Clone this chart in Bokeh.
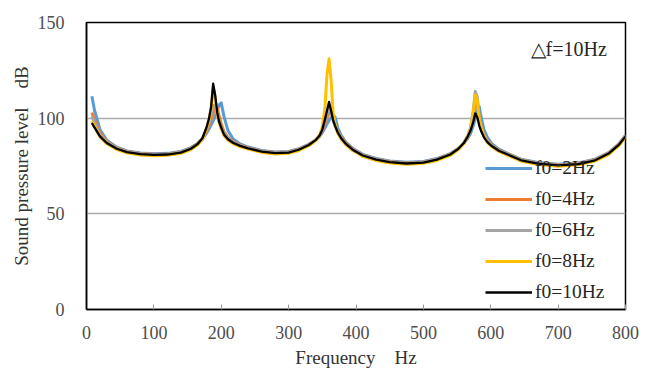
from bokeh.plotting import figure
from bokeh.models import FixedTicker, Legend, LegendItem, ColumnDataSource
from bokeh.core.properties import value
from bokeh.embed import file_html
from bokeh.resources import INLINE

freq = [8, 12, 20, 30, 45, 60, 80, 100, 120, 140,
        155, 165, 172, 178, 182, 185, 188, 191, 194, 197,
        200, 204, 210, 218, 228, 240, 260, 280, 300, 315,
        330, 340, 346, 350, 354, 357, 360, 363, 366, 369,
        373, 378, 385, 395, 410, 430, 450, 475, 500, 520,
        540, 552, 560, 566, 570, 574, 577, 580, 583, 586,
        590, 595, 602, 612, 625, 645, 670, 700, 730, 755,
        775, 790, 800]

spl_f0_2 = [111.5, 104, 94, 88.5, 84.8, 82.9, 81.8, 81.4, 81.6, 82.6,
            84.6, 86.8, 89, 92, 94.5, 96.5, 98.5, 101, 104, 107,
            108, 101, 93.5, 89, 86.5, 84.9, 83.1, 82.3, 82.6, 84,
            86.3, 88.5, 90.5, 92.5, 95, 97, 98.8, 100.3, 101.5, 100.5,
            95, 91, 87.5, 84.2, 81.1, 78.9, 77.6, 76.9, 77.4, 78.9,
            81.5, 84.2, 86.8, 89.5, 92, 96, 100, 103.5, 106, 100,
            94, 90, 86.5, 83.8, 81.6, 78.6, 76.8, 75.9, 76.6, 78.6,
            82, 86.5, 91]

spl_f0_4 = [103, 99, 92.5, 87.8, 84.4, 82.6, 81.5, 81.1, 81.3, 82.3,
            84.3, 86.7, 89.2, 93, 96.5, 99.5, 102.5, 105, 105.5, 101,
            97, 93, 90, 87.6, 86, 84.5, 82.8, 82, 82.3, 83.8,
            86.2, 88.6, 90.8, 93.5, 97, 100, 102.5, 103, 99.5, 96.3,
            93, 90, 87, 83.9, 80.8, 78.6, 77.3, 76.6, 77.1, 78.6,
            81.3, 84.1, 87, 90.5, 94, 100, 106.5, 108.5, 101, 95.5,
            91.5, 88.5, 85.8, 83.4, 81.3, 78.3, 76.5, 75.6, 76.3, 78.3,
            81.8, 86.3, 90.8]

spl_f0_6 = [101, 97.5, 91.5, 87.4, 84.2, 82.5, 81.4, 81, 81.2, 82.2,
            84.2, 86.6, 89.3, 94, 98, 102, 106.5, 107, 102.5, 98,
            95, 92, 89.5, 87.3, 85.7, 84.4, 82.7, 81.9, 82.2, 83.7,
            86.1, 88.5, 91, 94, 98.5, 102, 105, 103.5, 99, 95.8,
            92.7, 89.7, 86.7, 83.7, 80.7, 78.5, 77.2, 76.5, 77, 78.5,
            81.2, 84.1, 87.2, 91, 95, 104, 114, 111, 100.5, 95.5,
            91.2, 88.2, 85.6, 83.2, 81.2, 78.2, 76.4, 75.5, 76.2, 78.2,
            81.7, 86.2, 90.7]

spl_f0_8 = [98.5, 95.5, 90.3, 86.7, 83.6, 81.9, 80.8, 80.4, 80.6, 81.6,
            83.6, 86.1, 89, 94.5, 99.5, 105.5, 116, 110.5, 102, 97.5,
            94.5, 91, 88.6, 86.6, 85.1, 83.8, 82.1, 81.3, 81.6, 83.1,
            85.6, 88.2, 91, 95.5, 106, 123, 131, 120, 103, 96.5,
            92, 89, 86.1, 83.1, 80.1, 77.9, 76.6, 75.9, 76.4, 77.9,
            80.6, 83.6, 86.7, 90.5, 94.5, 102.5, 112, 109.5, 99, 94.5,
            90.3, 87.3, 84.9, 82.6, 80.6, 77.6, 75.8, 74.9, 75.6, 77.6,
            81.1, 85.6, 90.1]

spl_f0_10 = [97.5, 95, 90.5, 87, 84, 82.3, 81.2, 80.8, 81, 82,
             84, 86.5, 89.5, 95, 100, 106, 118, 112, 103, 98,
             95, 91.5, 89, 87, 85.5, 84.2, 82.5, 81.7, 82, 83.5,
             86, 88.5, 91, 94, 99.5, 104, 108.5, 104, 99, 96,
             92.5, 89.5, 86.5, 83.5, 80.5, 78.3, 77, 76.3, 76.8, 78.3,
             81, 84, 87, 90.5, 93.5, 98, 102.5, 100.5, 96, 93,
             90, 87.5, 85.3, 83, 81, 78, 76.2, 75.3, 76, 78,
             81.5, 86, 90.5]

series_labels = ["f0=2Hz", "f0=4Hz", "f0=6Hz", "f0=8Hz", "f0=10Hz"]
series_values = [spl_f0_2, spl_f0_4, spl_f0_6, spl_f0_8, spl_f0_10]
series_colors = ["#5B9BD5", "#ED7D31", "#A5A5A5", "#FFC000", "#000000"]
series_widths = [3, 3, 3, 3, 2.3]

x_ticks = [0, 100, 200, 300, 400, 500, 600, 700, 800]
y_ticks = [0, 50, 100, 150]
note_text = "△f=10Hz"

FONT = "Liberation Serif"

p = figure(width=645, height=370, output_backend="svg", toolbar_location=None,
           x_range=(0, 800), y_range=(0, 150),
           min_border_left=86, min_border_right=20, min_border_top=22, min_border_bottom=61)

p.outline_line_color = "black"
p.outline_line_width = 1.5
p.background_fill_color = "white"
p.border_fill_color = "white"

p.xgrid.visible = False
p.ygrid.grid_line_color = "#ABABAB"
p.ygrid.grid_line_width = 1.3

p.xaxis.ticker = FixedTicker(ticks=x_ticks)
p.yaxis.ticker = FixedTicker(ticks=y_ticks)
for ax in (p.xaxis[0], p.yaxis[0]):
    ax.axis_line_color = "black"
    ax.axis_line_width = 1.5
    ax.major_label_text_font = FONT
    ax.major_label_text_font_size = "18px"
    ax.major_label_text_color = "#4D4D4D"
    ax.axis_label_text_font = FONT
    ax.axis_label_text_font_size = "19px"
    ax.axis_label_text_font_style = "normal"
    ax.axis_label_text_color = "#333333"
    ax.minor_tick_line_color = None

p.xaxis.major_tick_in = 5
p.xaxis.major_tick_out = 0
p.xaxis.major_tick_line_color = "#999999"
p.xaxis.major_label_standoff = 16
p.xaxis.axis_label = "Frequency\u3000Hz"
p.xaxis.axis_label_standoff = 5

p.yaxis.major_tick_line_color = None
p.yaxis.major_label_standoff = 16
p.yaxis.axis_label = "Sound pressure level\u3000dB"
p.yaxis.axis_label_standoff = 3

items = []
for lab, vals, col, w in zip(series_labels, series_values, series_colors, series_widths):
    src = ColumnDataSource(dict(f=freq, spl=vals))
    r = p.line("f", "spl", source=src, line_color=col, line_width=w, line_join="round")
    items.append(LegendItem(label=lab, renderers=[r]))

legend = Legend(items=items, location=(399, 6), padding=0, spacing=9,
                glyph_width=47, glyph_height=20, label_height=20, label_standoff=3,
                label_text_font=FONT, label_text_font_size="19.5px",
                label_text_color="#262626",
                background_fill_alpha=0, border_line_color=None)
p.add_layout(legend)

p.text(x=[659], y=[136.3], text=[note_text], text_font=value(FONT),
       text_font_size="20px", text_baseline="middle", text_align="left",
       text_color="#262626")

open("out.html", "w").write(file_html(p, INLINE))
